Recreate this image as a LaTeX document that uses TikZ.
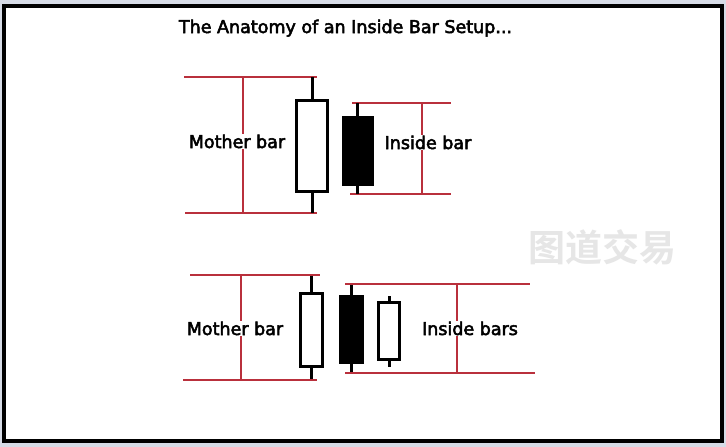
\documentclass[tikz,border=0pt]{standalone}
\usepackage{fontspec}
\setmainfont{DejaVu Sans}
\newfontfamily\labelfont{DejaVu Sans}[FakeBold=3]
\newfontfamily\cjk{Noto Sans CJK SC}[BoldFont={Noto Sans CJK SC Bold}]
\usetikzlibrary{positioning}
\definecolor{rangered}{RGB}{185,48,60}
\definecolor{edgegray}{RGB}{214,219,230}
\definecolor{markgray}{RGB}{230,230,230}

\begin{document}
\begin{tikzpicture}[x=1pt,y=-1pt]
\tikzset{rangeline/.style={draw=rangered,line width=1.1pt}}
\tikzset{wick/.style={line width=3pt}}
\tikzset{bull/.style={draw,line width=3pt,fill=white,inner sep=0pt}}
\tikzset{bear/.style={draw,line width=3pt,fill=black,inner sep=0pt}}
\tikzset{barlabel/.style={font=\labelfont\fontsize{17.5}{20}\selectfont,fill=white,inner sep=1pt,anchor=base}}

\useasboundingbox (0,0) rectangle (726,447);
\fill[edgegray] (0,0) rectangle (726,447);
\draw[line width=4pt,fill=white] (4,6) rectangle (721.5,441);

\node[font=\labelfont\fontsize{17.5}{20}\selectfont,anchor=base] (title) at (345.5,33) {The Anatomy of an Inside Bar Setup...};
\node[font=\cjk\bfseries\fontsize{37}{40}\selectfont,text=markgray] (mark) at (602,247) {图道交易};

% one inside bar
\coordinate (mhiL) at (184,77);   \coordinate (mhiR) at (317,77);
\coordinate (mloL) at (185,213);  \coordinate (mloR) at (317,213);
\coordinate (ihiL) at (352,103);  \coordinate (ihiR) at (451,103);
\coordinate (iloL) at (350,194);  \coordinate (iloR) at (451,194);
\draw[rangeline] (mhiL) -- (mhiR);
\draw[rangeline] (mloL) -- (mloR);
\draw[rangeline] (243,77) -- (243,213);
\draw[rangeline] (ihiL) -- (ihiR);
\draw[rangeline] (iloL) -- (iloR);
\draw[rangeline] (422,103) -- (422,194);

\node[bull,minimum width=31pt,minimum height=91pt] (mother) at (312,146) {};
\draw[wick] (mother.north) -- (mother.north |- mhiR);
\draw[wick] (mother.south) -- (mother.south |- mloR);
\node[bear,minimum width=29pt,minimum height=67pt] (inside) at (358,151) {};
\draw[wick] (357,117) -- (357,103);
\draw[wick] (357,185) -- (357,194);

\node[barlabel] (mlabel) at (237,148) {Mother bar};
\node[barlabel] (ilabel) at (428,149) {Inside bar};

% two inside bars
\coordinate (nhiL) at (190,275);  \coordinate (nhiR) at (320,275);
\coordinate (nloL) at (183,380);  \coordinate (nloR) at (317,380);
\coordinate (jhiL) at (345,284);  \coordinate (jhiR) at (530,284);
\coordinate (jloL) at (345,373);  \coordinate (jloR) at (535,373);
\draw[rangeline] (nhiL) -- (nhiR);
\draw[rangeline] (nloL) -- (nloR);
\draw[rangeline] (241,275) -- (241,380);
\draw[rangeline] (jhiL) -- (jhiR);
\draw[rangeline] (jloL) -- (jloR);
\draw[rangeline] (457,284) -- (457,373);

\node[bull,minimum width=22pt,minimum height=73pt] (mother2) at (311.5,330) {};
\draw[wick] (mother2.north) -- (311.5,276);
\draw[wick] (mother2.south) -- (311.5,379);
\node[bear,minimum width=22pt,minimum height=66pt] (inside2) at (351.5,329.5) {};
\draw[wick] (inside2.north) -- (351.5,285);
\draw[wick] (inside2.south) -- (351.5,372);
\node[bull,minimum width=21pt,minimum height=57pt] (inside3) at (389,331) {};
\draw[wick] (inside3.north) -- (389,296);
\draw[wick] (inside3.south) -- (389,367);

\node[barlabel] (mlabel2) at (235,335) {Mother bar};
\node[barlabel] (ilabel2) at (470,335) {Inside bars};
\end{tikzpicture}
\end{document}
